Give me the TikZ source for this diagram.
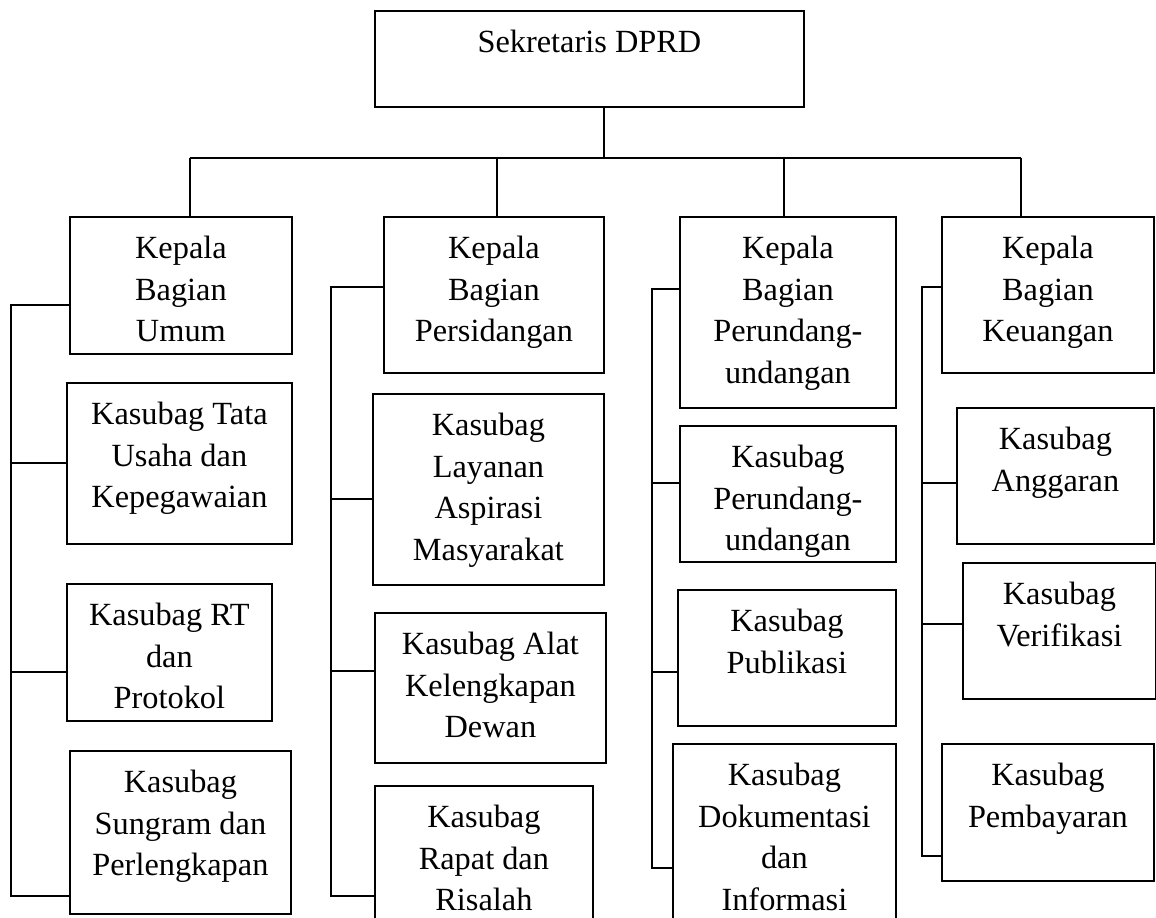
\documentclass[tikz,border=0pt]{standalone}
\usepackage{fontspec}
\setmainfont{Liberation Serif}
\usetikzlibrary{positioning}

\newcommand{\px}{0.025cm}

\begin{document}
\begin{tikzpicture}[x=0.025cm, y=-0.025cm,
    unit/.style={draw, line width=1.3pt, anchor=north west, inner sep=0pt},
    lbl/.style={align=center, inner sep=0pt, font=\fontsize{23}{29.7}\selectfont},
    line/.style={line width=1.3pt}]
    % frame
    \clip (0,0) rectangle (1156,918);

    % boxes
    \foreach \n/\a/\b/\c/\d/\t in {
        sek/374/10/803/106/{Sekretaris DPRD},
        umum/69/216/291/353/{Kepala\\Bagian\\Umum},
        tata/66/382/291/543/{Kasubag Tata\\Usaha dan\\Kepegawaian},
        rt/66/583/271/720/{Kasubag RT\\dan\\Protokol},
        sung/69/750/290/913/{Kasubag\\Sungram dan\\Perlengkapan},
        sidang/383/216/603/372/{Kepala\\Bagian\\Persidangan},
        layan/372/393/603/584/{Kasubag\\Layanan\\Aspirasi\\Masyarakat},
        alat/374/612/605/762/{Kasubag Alat\\Kelengkapan\\Dewan},
        rapat/374/785/592/950/{Kasubag\\Rapat dan\\Risalah},
        undang/679/216/895/407/{Kepala\\Bagian\\Perundang-\\undangan},
        kperund/679/425/895/561/{Kasubag\\Perundang-\\undangan},
        publik/677/589/895/725/{Kasubag\\Publikasi},
        dokum/672/743/895/950/{Kasubag\\Dokumentasi\\dan\\Informasi},
        uang/941/216/1153/372/{Kepala\\Bagian\\Keuangan},
        angg/956/407/1153/543/{Kasubag\\Anggaran},
        verif/962/562/1155/698/{Kasubag\\Verifikasi},
        bayar/941/743/1153/880/{Kasubag\\Pembayaran}}
    {
        \node[unit, minimum width=(\c-\a)*\px, minimum height=(\d-\b)*\px] (\n) at (\a,\b) {};
        \node[lbl, below=0.49cm of \n.north] (\n-t) {\t};
    }

    % top bar
    \coordinate (bar) at (604,158);
    \coordinate (b1) at (190,158);
    \coordinate (b4) at (1021,158);
    \draw[line] (sek.south -| bar) -- (bar);
    \draw[line] (b1) -- (b4);
    \foreach \n/\x in {umum/190, sidang/497, undang/784, uang/1021}
        \draw[line] (\x,158) -- (\n.north -| \x,0);

    % Bagian Umum
    \coordinate (k1a) at (11,305);
    \coordinate (k1b) at (11,896);
    \draw[line] (umum.west |- k1a) -- (k1a) -- (k1b) -- (sung.west |- k1b);
    \foreach \n/\y in {tata/463, rt/672}
        \draw[line] (k1a |- 0,\y) -- (\n.west |- 0,\y);

    % Bagian Persidangan
    \coordinate (k2a) at (331,287);
    \coordinate (k2b) at (331,896);
    \draw[line] (sidang.west |- k2a) -- (k2a) -- (k2b) -- (rapat.west |- k2b);
    \foreach \n/\y in {layan/499, alat/671}
        \draw[line] (k2a |- 0,\y) -- (\n.west |- 0,\y);

    % Bagian Perundang-undangan
    \coordinate (k3a) at (652,289);
    \coordinate (k3b) at (652,868);
    \draw[line] (undang.west |- k3a) -- (k3a) -- (k3b) -- (dokum.west |- k3b);
    \foreach \n/\y in {kperund/483, publik/672}
        \draw[line] (k3a |- 0,\y) -- (\n.west |- 0,\y);

    % Bagian Keuangan
    \coordinate (k4a) at (922,287);
    \coordinate (k4b) at (922,856);
    \draw[line] (uang.west |- k4a) -- (k4a) -- (k4b) -- (bayar.west |- k4b);
    \foreach \n/\y in {angg/483, verif/624}
        \draw[line] (k4a |- 0,\y) -- (\n.west |- 0,\y);
\end{tikzpicture}
\end{document}
